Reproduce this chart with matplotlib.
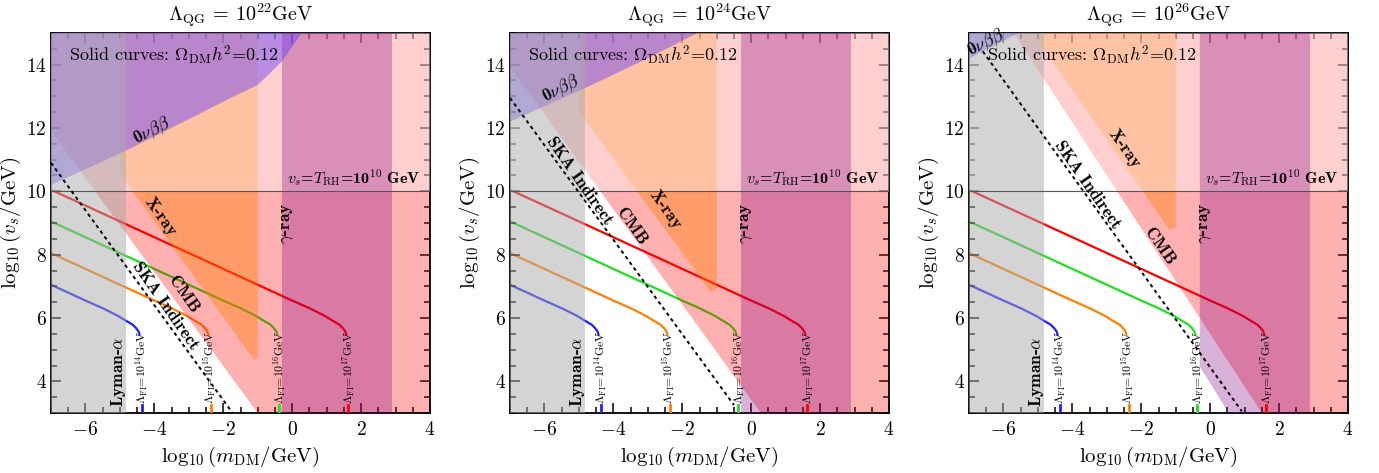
import numpy as np
import matplotlib
matplotlib.use("Agg")
import matplotlib.pyplot as plt
from matplotlib.ticker import MultipleLocator

plt.rcParams.update({
    "font.family": ["cmr10", "DejaVu Serif"],
    "mathtext.fontset": "cm",
    "axes.formatter.use_mathtext": True,
})
BOLD = ["cmb10", "DejaVu Serif"]

# =====================================================
# DATA
# =====================================================
LAMBDA_QG = ["22", "24", "26"]

# relic density curves, one per Lambda_FI
FI_LABELS = ["14", "15", "16", "17"]
FI_COLORS = ["#1f1fff", "#ff8000", "#1ee01e", "#ff0000"]
blue_x = [-7.0, -6.0, -5.5, -5.06, -4.82, -4.63, -4.53, -4.46, -4.43]
blue_y = [7.05, 6.55, 6.31, 6.07, 5.91, 5.79, 5.68, 5.58, 5.47]
orange_x = [-7.0, -4.0, -3.5, -3.06, -2.82, -2.63, -2.53, -2.46, -2.43]
orange_y = [8.05, 6.55, 6.31, 6.07, 5.91, 5.79, 5.68, 5.58, 5.47]
green_x = [-7.0, -2.0, -1.5, -1.06, -0.82, -0.63, -0.53, -0.46, -0.43]
green_y = [9.05, 6.55, 6.31, 6.07, 5.91, 5.79, 5.68, 5.58, 5.47]
red_x = [-7.0, 0.0, 0.5, 0.94, 1.18, 1.37, 1.47, 1.54, 1.57]
red_y = [10.05, 6.55, 6.31, 6.07, 5.91, 5.79, 5.68, 5.58, 5.47]
curves_x = [blue_x, orange_x, green_x, red_x]
curves_y = [blue_y, orange_y, green_y, red_y]
fi_marks = [-4.37, -2.37, -0.37, 1.63]

LYMAN_X = -4.82
V_TRH = 10

# CMB lower-left boundary (two points per panel)
cmb_x = [[-7.0, -1.0], [-7.0, 0.28], [-5.7, 1.5]]
cmb_y = [[11.9, 3.0], [13.94, 3.0], [15.0, 3.0]]

# X-ray polygons
xray_x = [[-5.0, -5.0, -1.12, -1.0, -1.0],
          [-4.98, -4.98, -1.18, -1.0, -1.0],
          [-4.98, -4.98, -1.18, -1.0, -1.0]]
xray_y = [[15.0, 10.57, 4.69, 4.75, 15.0],
          [15.0, 12.5, 6.83, 6.9, 15.0],
          [15.0, 14.74, 8.78, 8.85, 15.0]]

# gamma-ray band (lower-left corner cut in last panel)
gamma_x = [[-0.3, -0.3, 2.9, 2.9],
           [-0.3, -0.3, 2.9, 2.9],
           [-0.3, -0.3, 0.54, 2.9, 2.9]]
gamma_y = [[15.0, 3.0, 3.0, 15.0],
           [15.0, 3.0, 3.0, 15.0],
           [15.0, 4.46, 3.0, 3.0, 15.0]]

# 0nubb lower boundary
onbb_x = [[-7.0, -4.8, -3.0, -1.8, -1.0, -0.3, 0.28],
          [-7.0, -4.8, -3.0, -1.56],
          [-7.0, -5.55]]
onbb_y = [[10.2, 11.3, 12.28, 12.94, 13.36, 14.1, 15.0],
          [12.2, 13.27, 14.2, 15.0],
          [14.2, 15.0]]

# SKA indirect reach
ska_x = [[-7.0, -1.73], [-7.0, -0.5], [-6.6, 0.92]]
ska_y = [[10.9, 3.0], [12.95, 3.25], [14.42, 3.05]]

# label positions
ska_lbl = [(-3.67, 6.38), (-5.0, 10.34), (-3.56, 10.2)]
cmb_lbl = [(-3.16, 6.75), (-3.46, 8.88), (-1.48, 8.25)]
xray_lbl = [(-3.84, 9.2), (-2.49, 9.41), (-2.49, 11.33)]
onbb_lbl = [(-4.08, 11.9), (-5.53, 13.22), (-6.52, 14.68)]

# =====================================================
# PLOTS
# =====================================================
fig = plt.figure(figsize=(13.79, 4.73), dpi=100)
lefts = [51, 510, 969]

for i in range(3):
    ax = fig.add_axes([lefts[i] / 1379, 60 / 473, 379 / 1379, 380 / 473])
    ax.set_xlim(-7, 4)
    ax.set_ylim(3, 15)

    # relic curves (under the shaded regions)
    for cx, cy, c in zip(curves_x, curves_y, FI_COLORS):
        ax.plot(cx, cy, color=c, lw=1.6, zorder=1)

    # CMB
    ax.fill(cmb_x[i] + [4, 4, -7], cmb_y[i] + [3, 15, 15],
            color="red", alpha=0.31, lw=0, zorder=2)
    # X-ray
    ax.fill(xray_x[i], xray_y[i], color="#ff8000", alpha=0.4, lw=0, zorder=3)
    # above reheating temperature
    ax.axhspan(V_TRH, 15, color="white", alpha=0.4, lw=0, zorder=4)
    # gamma-ray
    ax.fill(gamma_x[i], gamma_y[i], color="purple", alpha=0.3, lw=0, zorder=5)
    # 0nubb
    ax.fill(onbb_x[i] + [-7], onbb_y[i] + [15], color="#643cff", alpha=0.45,
            lw=0, zorder=6)
    # Lyman-alpha
    ax.axvspan(-7, LYMAN_X, color="#aaaaaa", alpha=0.5, lw=0, zorder=7)

    ax.axhline(V_TRH, color="#555555", lw=0.8, zorder=8)
    ax.plot(ska_x[i], ska_y[i], color="black", lw=1.4, ls=(0, (1.8, 1.8)), zorder=9)

    for xm, c, lab in zip(fi_marks, FI_COLORS, FI_LABELS):
        ax.plot([xm, xm], [3, 3.25], color=c, lw=2, zorder=9)
        ax.text(xm, 3.3, r"$\Lambda_{\rm FI}$=10$^{%s}$GeV" % lab, rotation=90,
                ha="center", va="bottom", fontsize=8.5, zorder=10)

    ax.text(-6.47, 14.3, r"Solid curves: $\Omega_{\rm DM}h^2$=0.12", fontsize=13,
            va="center", ha="left", zorder=10)
    ax.text(3.74, 10.07, r"$v_s$=$T_{\rm RH}$=10$^{10}$ GeV", family=BOLD,
            fontsize=11.5, ha="right", va="bottom", zorder=10)
    ax.text(-5.05, 4.3, r"Lyman-$\alpha$", family=BOLD, rotation=90, fontsize=12.5,
            ha="center", va="center", zorder=10)
    ax.text(-0.13, 9.0, r"$\gamma$-ray", family=BOLD, rotation=90, fontsize=12.5,
            ha="center", va="center", zorder=10)
    ax.text(*ska_lbl[i], "SKA Indirect", family=BOLD, rotation=-55, fontsize=12.5,
            ha="center", va="center", rotation_mode="anchor", zorder=10)
    ax.text(*cmb_lbl[i], "CMB", family=BOLD, rotation=-55, fontsize=12.5,
            ha="center", va="center", rotation_mode="anchor", zorder=10)
    ax.text(*xray_lbl[i], "X-ray", family=BOLD, rotation=-55, fontsize=12.5,
            ha="center", va="center", rotation_mode="anchor", zorder=10)
    ax.text(*onbb_lbl[i], r"0$\nu\beta\beta$", family=BOLD, rotation=27, fontsize=12.5,
            ha="center", va="center", rotation_mode="anchor", zorder=10)

    ax.set_title(r"$\Lambda_{\rm QG}$ = 10$^{%s}$GeV" % LAMBDA_QG[i], fontsize=14.5, pad=8)
    ax.set_xlabel(r"$\log_{10}(m_{\rm DM}/{\rm GeV})$", fontsize=15, labelpad=4)
    ax.set_ylabel(r"$\log_{10}(v_s/{\rm GeV})$", fontsize=15, labelpad=2)

    ax.xaxis.set_major_locator(MultipleLocator(2))
    ax.xaxis.set_minor_locator(MultipleLocator(0.5))
    ax.yaxis.set_major_locator(MultipleLocator(2))
    ax.yaxis.set_minor_locator(MultipleLocator(0.5))
    ax.tick_params(which="both", direction="in", top=True, right=True, width=1.1,
                   labelsize=14)
    ax.tick_params(which="major", length=7)
    ax.tick_params(which="minor", length=4)
    ax.tick_params(axis="x", pad=6)
    ax.tick_params(axis="y", pad=3)
    for s in ax.spines.values():
        s.set_linewidth(1.3)

fig.savefig("out.png", dpi=100)
